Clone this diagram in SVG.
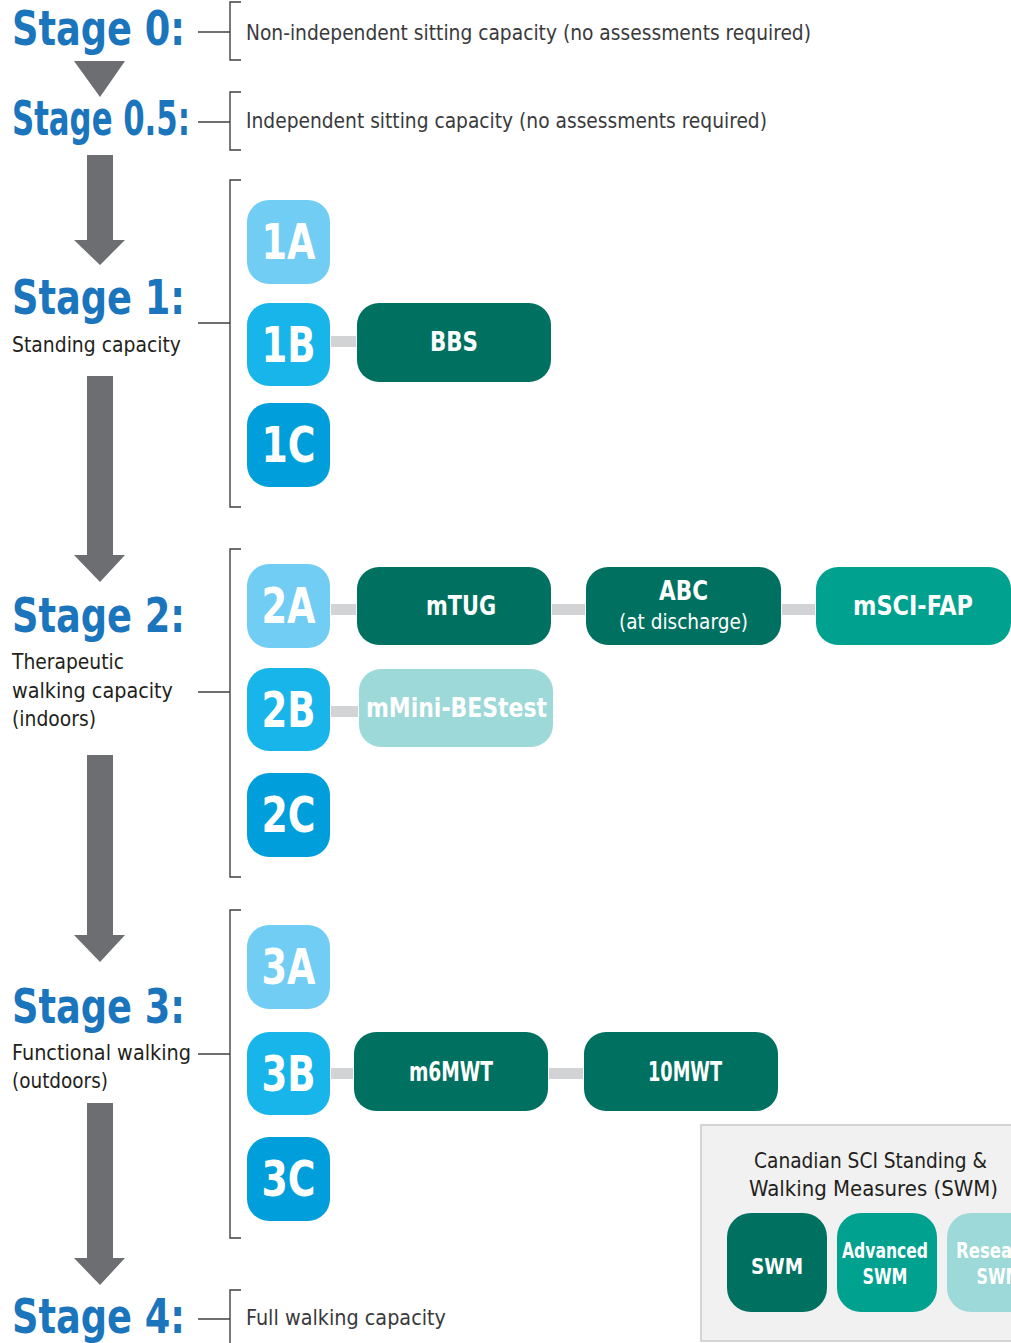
<svg xmlns="http://www.w3.org/2000/svg" width="1011" height="1343" viewBox="0 0 1011 1343">
<style>
text{font-family:"Liberation Sans Narrow","DejaVu Sans Condensed","Liberation Sans",sans-serif;font-stretch:condensed}
.stage{font-size:48px;font-weight:bold;fill:#1b75bc}
.desc{font-size:22px;fill:#3a3a3c}
.sub{font-size:22px;fill:#231f20}
.lvl{font-size:50px;font-weight:bold;fill:#fff;text-anchor:middle}
.m{font-size:27px;font-weight:bold;fill:#fff;text-anchor:middle}
.ms{font-size:22px;fill:#fff;text-anchor:middle}
.lg{font-size:22px;fill:#231f20;text-anchor:middle}
.lgb{font-size:22px;font-weight:bold;fill:#fff;text-anchor:middle}
.arrow{fill:#6d6e71}
.br{stroke:#414042;fill:none;stroke-width:1.4}
.conn{fill:#d1d3d4}
.a{fill:#72cdf4}.b{fill:#17b5ea}.c{fill:#009fdc}
.dk{fill:#007161}.md{fill:#00a28f}.lt{fill:#9dd9d9}
</style>
<rect width="1011" height="1343" fill="#fff"/>

<g id="arrows">
<polygon class="arrow" points="74,61 125,61 100,97"/>
<path class="arrow" d="M87,155H113V240H125L100,265L74,240H87Z"/>
<path class="arrow" d="M87,376H113V555H125L100,582L74,555H87Z"/>
<path class="arrow" d="M87,755H113V935H125L100,962L74,935H87Z"/>
<path class="arrow" d="M87,1103H113V1258H125L100,1285L74,1258H87Z"/>
</g>

<g id="connectors">
<path class="br" d="M198,32H230M241,2H230V60H241"/>
<path class="br" d="M198,122H230M241,92H230V150H241"/>
<path class="br" d="M198,323H230M241,180H230V507H241"/>
<path class="br" d="M198,692H230M241,549H230V877H241"/>
<path class="br" d="M198,1054H230M241,910H230V1238H241"/>
<path class="br" d="M198,1319H230M241,1290H230V1350"/>
<rect class="conn" x="331" y="336" width="25" height="11"/>
<rect class="conn" x="331" y="604" width="25" height="11"/>
<rect class="conn" x="552" y="604" width="33" height="11"/>
<rect class="conn" x="782" y="604" width="33" height="11"/>
<rect class="conn" x="331" y="706" width="27" height="11"/>
<rect class="conn" x="331" y="1068" width="22" height="11"/>
<rect class="conn" x="549" y="1068" width="34" height="11"/>
</g>

<g id="stage0">
<text class="stage" x="12" y="45" textLength="173" lengthAdjust="spacingAndGlyphs">Stage 0:</text>
<text class="desc" x="246" y="40" textLength="565" lengthAdjust="spacingAndGlyphs">Non-independent sitting capacity (no assessments required)</text>
</g>
<g id="stage05">
<text class="stage" x="12" y="135" textLength="178" lengthAdjust="spacingAndGlyphs">Stage 0.5:</text>
<text class="desc" x="246" y="128" textLength="521" lengthAdjust="spacingAndGlyphs">Independent sitting capacity (no assessments required)</text>
</g>
<g id="stage1">
<text class="stage" x="12" y="314" textLength="173" lengthAdjust="spacingAndGlyphs">Stage 1:</text>
<text class="sub" x="12" y="352" textLength="169" lengthAdjust="spacingAndGlyphs">Standing capacity</text>
</g>
<g id="stage2">
<text class="stage" x="12" y="632" textLength="173" lengthAdjust="spacingAndGlyphs">Stage 2:</text>
<text class="sub" x="12" y="669" textLength="112" lengthAdjust="spacingAndGlyphs">Therapeutic</text>
<text class="sub" x="12" y="698" textLength="161" lengthAdjust="spacingAndGlyphs">walking capacity</text>
<text class="sub" x="12" y="726" textLength="84" lengthAdjust="spacingAndGlyphs">(indoors)</text>
</g>
<g id="stage3">
<text class="stage" x="12" y="1023" textLength="173" lengthAdjust="spacingAndGlyphs">Stage 3:</text>
<text class="sub" x="12" y="1060" textLength="179" lengthAdjust="spacingAndGlyphs">Functional walking</text>
<text class="sub" x="12" y="1088" textLength="96" lengthAdjust="spacingAndGlyphs">(outdoors)</text>
</g>
<g id="stage4">
<text class="stage" x="12" y="1333" textLength="173" lengthAdjust="spacingAndGlyphs">Stage 4:</text>
<text class="desc" x="246" y="1325" textLength="200" lengthAdjust="spacingAndGlyphs">Full walking capacity</text>
</g>

<g id="n1A"><rect class="a" x="247" y="200" width="83" height="84" rx="22"/><text class="lvl" x="288.5" y="259" textLength="54" lengthAdjust="spacingAndGlyphs">1A</text></g>
<g id="n1B"><rect class="b" x="247" y="303" width="83" height="83" rx="22"/><text class="lvl" x="288.5" y="362" textLength="54" lengthAdjust="spacingAndGlyphs">1B</text></g>
<g id="n1C"><rect class="c" x="247" y="403" width="83" height="84" rx="22"/><text class="lvl" x="288.5" y="462" textLength="54" lengthAdjust="spacingAndGlyphs">1C</text></g>
<g id="nBBS"><rect class="dk" x="357" y="303" width="194" height="79" rx="22"/><text class="m" x="454" y="351" textLength="48" lengthAdjust="spacingAndGlyphs">BBS</text></g>

<g id="n2A"><rect class="a" x="247" y="564" width="83" height="84" rx="22"/><text class="lvl" x="288.5" y="623" textLength="54" lengthAdjust="spacingAndGlyphs">2A</text></g>
<g id="n2B"><rect class="b" x="247" y="668" width="83" height="83" rx="22"/><text class="lvl" x="288.5" y="727" textLength="54" lengthAdjust="spacingAndGlyphs">2B</text></g>
<g id="n2C"><rect class="c" x="247" y="773" width="83" height="84" rx="22"/><text class="lvl" x="288.5" y="832" textLength="54" lengthAdjust="spacingAndGlyphs">2C</text></g>
<g id="nmTUG"><rect class="dk" x="357" y="567" width="194" height="78" rx="22"/><text class="m" x="461" y="615" textLength="70" lengthAdjust="spacingAndGlyphs">mTUG</text></g>
<g id="nABC"><rect class="dk" x="586" y="567" width="195" height="78" rx="22"/><text class="m" x="683.5" y="600" textLength="49" lengthAdjust="spacingAndGlyphs">ABC</text><text class="ms" x="683.5" y="629" textLength="129" lengthAdjust="spacingAndGlyphs">(at discharge)</text></g>
<g id="nmSCIFAP"><rect class="md" x="816" y="567" width="195" height="78" rx="22"/><text class="m" x="913" y="615" textLength="120" lengthAdjust="spacingAndGlyphs">mSCI-FAP</text></g>
<g id="nmMini"><rect class="lt" x="359" y="669" width="194" height="78" rx="22"/><text class="m" x="456.5" y="717" textLength="181" lengthAdjust="spacingAndGlyphs">mMini-BEStest</text></g>

<g id="n3A"><rect class="a" x="247" y="925" width="83" height="84" rx="22"/><text class="lvl" x="288.5" y="984" textLength="54" lengthAdjust="spacingAndGlyphs">3A</text></g>
<g id="n3B"><rect class="b" x="247" y="1032" width="83" height="83" rx="22"/><text class="lvl" x="288.5" y="1091" textLength="54" lengthAdjust="spacingAndGlyphs">3B</text></g>
<g id="n3C"><rect class="c" x="247" y="1137" width="83" height="84" rx="22"/><text class="lvl" x="288.5" y="1196" textLength="54" lengthAdjust="spacingAndGlyphs">3C</text></g>
<g id="nm6MWT"><rect class="dk" x="354" y="1032" width="194" height="79" rx="22"/><text class="m" x="451" y="1081" textLength="84" lengthAdjust="spacingAndGlyphs">m6MWT</text></g>
<g id="n10MWT"><rect class="dk" x="584" y="1032" width="194" height="79" rx="22"/><text class="m" x="685" y="1081" textLength="74" lengthAdjust="spacingAndGlyphs">10MWT</text></g>

<g id="legend">
<rect x="701" y="1125" width="330" height="216" fill="#f1f1f1" stroke="#c8c8c8" stroke-width="1.5"/>
<text class="lg" x="870.5" y="1168" textLength="233" lengthAdjust="spacingAndGlyphs">Canadian SCI Standing &amp;</text>
<text class="lg" x="873.5" y="1196" textLength="249" lengthAdjust="spacingAndGlyphs">Walking Measures (SWM)</text>
<rect class="dk" x="727" y="1213" width="100" height="99" rx="24"/>
<text class="lgb" x="777" y="1274" font-size="24" textLength="52" lengthAdjust="spacingAndGlyphs">SWM</text>
<rect class="md" x="837" y="1213" width="100" height="99" rx="24"/>
<text class="lgb" x="885" y="1258" textLength="86" lengthAdjust="spacingAndGlyphs">Advanced</text>
<text class="lgb" x="885" y="1284" textLength="45" lengthAdjust="spacingAndGlyphs">SWM</text>
<rect class="lt" x="947" y="1213" width="100" height="99" rx="24"/>
<text class="lgb" x="999" y="1258" textLength="86" lengthAdjust="spacingAndGlyphs">Research</text>
<text class="lgb" x="999" y="1284" textLength="45" lengthAdjust="spacingAndGlyphs">SWM</text>
</g>
</svg>
